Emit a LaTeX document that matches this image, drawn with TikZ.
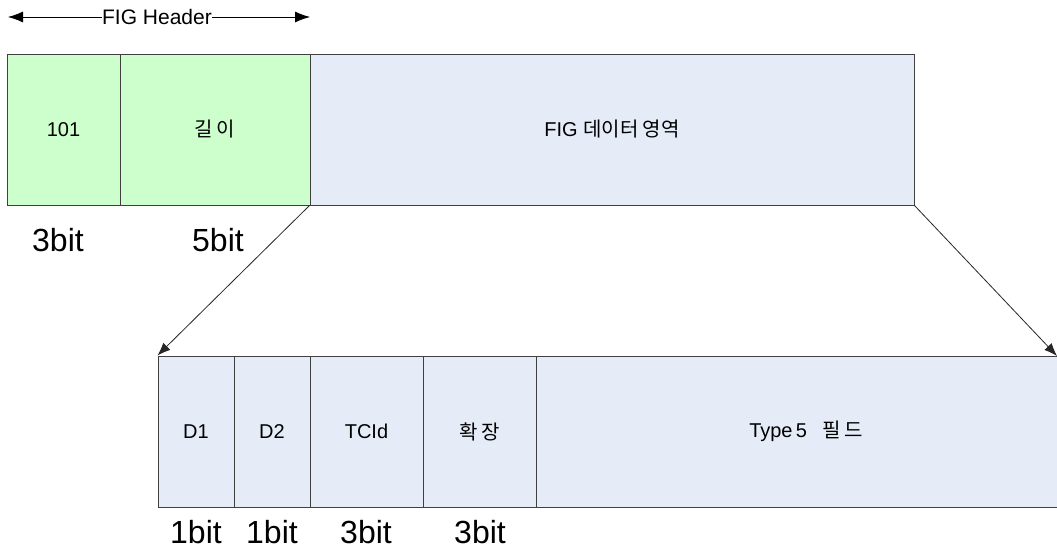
\documentclass[tikz,border=0pt]{standalone}
\usepackage{fontspec}
\setmainfont{Liberation Sans}
\newfontfamily\kr{Noto Sans CJK KR}
\usetikzlibrary{arrows.meta}
\definecolor{fgreen}{HTML}{CCFFCC}
\definecolor{fblue}{HTML}{E6ECF7}
\definecolor{edge}{HTML}{404040}
\tikzset{
  cell/.style={draw=edge, line width=1pt, inner sep=0pt, minimum height=151pt, font=\fontsize{20}{23}\selectfont},
  gcell/.style={cell, fill=fgreen},
  bcell/.style={cell, fill=fblue},
  bitlbl/.style={font=\fontsize{32}{36}\selectfont, inner sep=0pt},
  conn/.style={draw=black!85, line width=0.8pt, -{Latex[length=13pt,width=10pt]}},
}
\begin{document}
\begin{tikzpicture}[x=1pt,y=-1pt]
\clip (0,0) rectangle (1057,552);
\fill[white] (0,0) rectangle (1057,552);
% top row
\node[gcell, minimum width=113pt] (f101) at (63.5,129.5) {101};
\node[gcell, minimum width=190pt] (len) at (215,129.5) {\kr 길\,이};
\node[bcell, minimum width=604pt] (data) at (612,129.5) {FIG {\kr 데이터 영역}};
% header arrow
\node[font=\fontsize{21}{24}\selectfont, inner sep=0pt] (hdr) at (157,17) {FIG Header};
\coordinate (hl) at (8,17);
\coordinate (hr) at (310,17);
\draw[line width=0.8pt, -{Latex[length=15pt,width=11pt]}] (hdr.west) -- (hl);
\draw[line width=0.8pt, -{Latex[length=15pt,width=11pt]}] (hdr.east) -- (hr);
% bit labels top
\node[bitlbl] (b1) at (58,240) {3bit};
\node[bitlbl] (b2) at (218,240) {5bit};
% bottom row
\node[bcell, minimum width=76pt] (d1) at (196,431.5) {D1};
\node[bcell, minimum width=76pt] (d2) at (272,431.5) {D2};
\node[bcell, minimum width=113pt] (tcid) at (366.5,431.5) {TCId};
\node[bcell, minimum width=113pt] (ext) at (479.5,431.5) {\kr 확\,장};
\node[bcell, minimum width=540pt] (t5) at (806,431.5) {Type\,5 \enspace{\kr 필\,드}};
% bit labels bottom
\node[bitlbl] (c1) at (196,532) {1bit};
\node[bitlbl] (c2) at (272,532) {1bit};
\node[bitlbl] (c3) at (366,532) {3bit};
\node[bitlbl] (c4) at (480,532) {3bit};
% zoom connectors
\coordinate (tr) at (1057,356);
\draw[conn] (data.south west) -- (d1.north west);
\draw[conn] (data.south east) -- (tr);
\end{tikzpicture}
\end{document}
